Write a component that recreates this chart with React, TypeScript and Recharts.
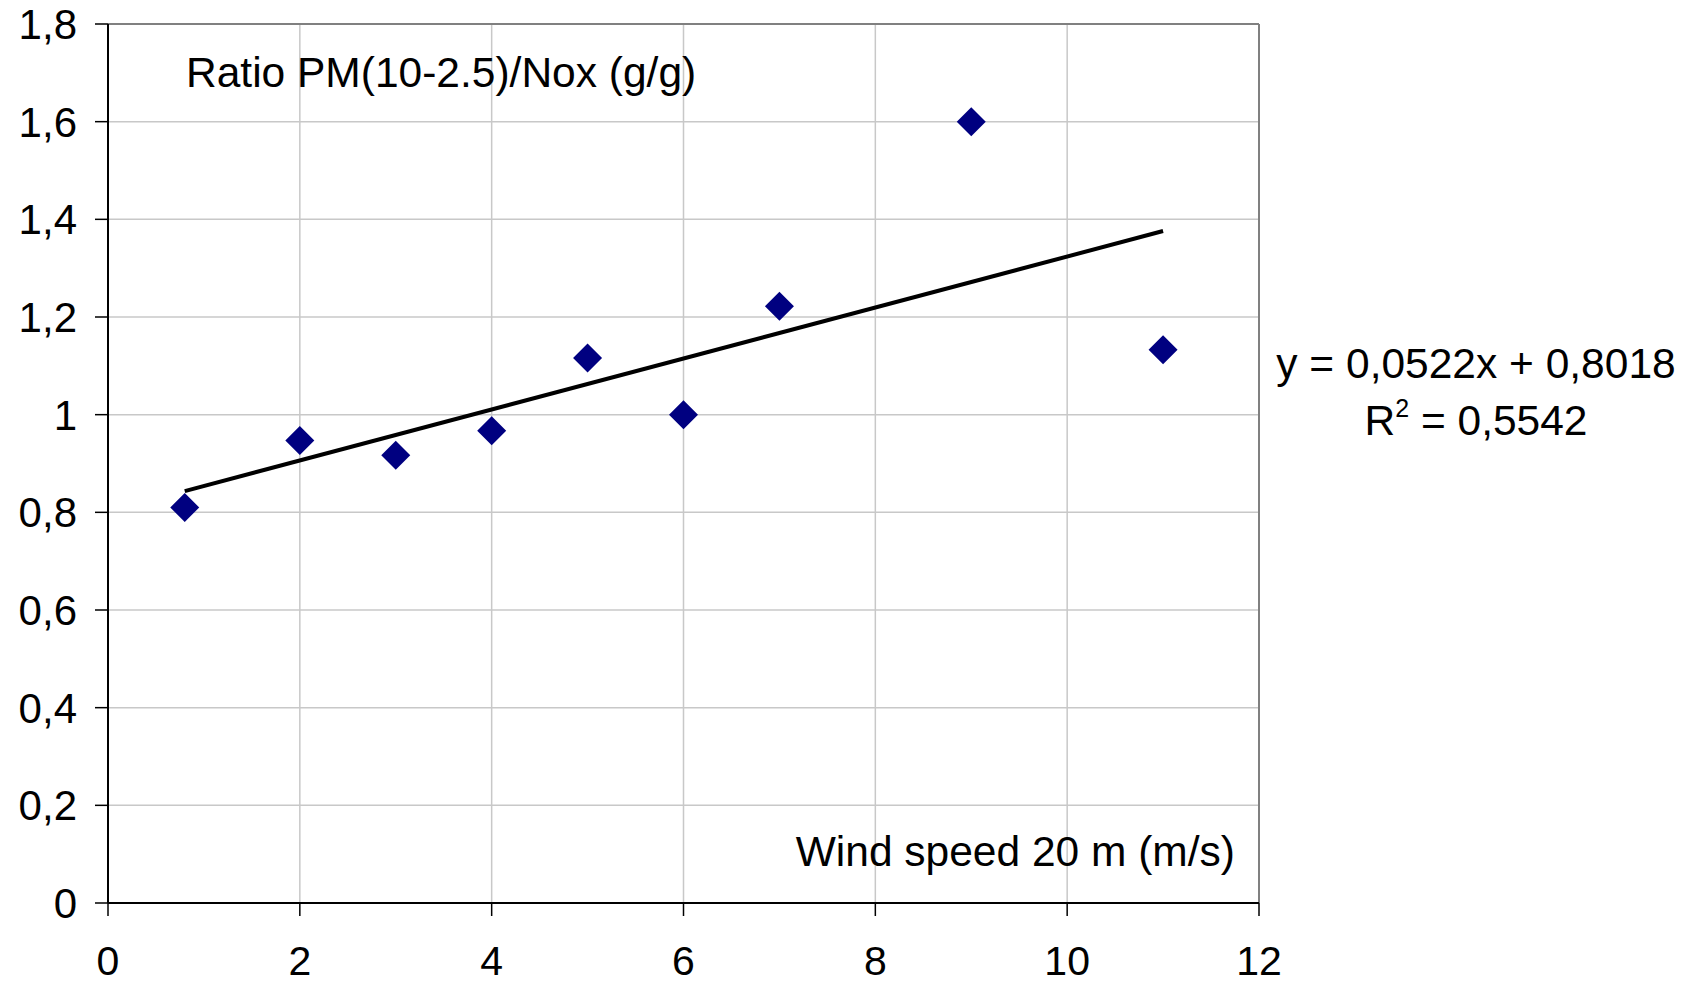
import { ScatterChart, Scatter, XAxis, YAxis, CartesianGrid, ReferenceLine } from "recharts";

const windSpeed = [0.8, 2, 3, 4, 5, 6, 7, 9, 11];
const ratio = [0.81, 0.947, 0.917, 0.967, 1.116, 1.0, 1.222, 1.6, 1.133];
const xTicks = [0, 2, 4, 6, 8, 10, 12];
const yTicks = [0, 0.2, 0.4, 0.6, 0.8, 1, 1.2, 1.4, 1.6, 1.8];

// trendline from the equation shown in the chart
const slope = 0.0522;
const intercept = 0.8018;
const trendFrom = 0.8;
const trendTo = 11;

const points = windSpeed.map((x, i) => ({ x, y: ratio[i] }));
const font = "'Liberation Sans', Arial, sans-serif";
const comma = (v: number) => String(v).replace(".", ",");

const Diamond = (props: any) => {
  const { cx, cy } = props;
  const r = 14.5;
  return (
    <polygon
      points={`${cx},${cy - r} ${cx + r},${cy} ${cx},${cy + r} ${cx - r},${cy}`}
      fill="#000080"
    />
  );
};

export default function App() {
  return (
    <div style={{ position: "absolute", left: 0, top: 0, width: 1692, height: 984, background: "#fff" }}>
      <ScatterChart width={1692} height={984} margin={{ top: 24, right: 433, left: 0, bottom: 0 }}>
        <CartesianGrid stroke="#c8c8c8" strokeWidth={1.5} />
        <XAxis
          type="number"
          dataKey="x"
          domain={[0, 12]}
          ticks={xTicks}
          height={81}
          tickSize={13}
          tickMargin={30}
          axisLine={{ stroke: "#000", strokeWidth: 2 }}
          tickLine={{ stroke: "#000", strokeWidth: 1.5 }}
          tick={{ fill: "#000", fontSize: 41, fontFamily: font }}
          interval={0}
        />
        <YAxis
          type="number"
          dataKey="y"
          domain={[0, 1.8]}
          ticks={yTicks}
          width={108}
          tickSize={13}
          tickMargin={18}
          tickFormatter={comma}
          axisLine={{ stroke: "#000", strokeWidth: 2 }}
          tickLine={{ stroke: "#000", strokeWidth: 1.5 }}
          tick={{ fill: "#000", fontSize: 42, fontFamily: font }}
          interval={0}
        />
        <ReferenceLine y={1.8} stroke="#808080" strokeWidth={2} />
        <ReferenceLine x={12} stroke="#808080" strokeWidth={2} />
        <ReferenceLine
          segment={[
            { x: trendFrom, y: slope * trendFrom + intercept },
            { x: trendTo, y: slope * trendTo + intercept },
          ]}
          stroke="#000"
          strokeWidth={4}
        />
        <Scatter data={points} shape={Diamond} isAnimationActive={false} />
      </ScatterChart>
      <svg
        width={1692}
        height={984}
        style={{ position: "absolute", left: 0, top: 0, pointerEvents: "none" }}
        fontFamily={font}
      >
        <text x={186} y={87} fontSize={42.5} fill="#000">
          Ratio PM(10-2.5)/Nox (g/g)
        </text>
        <text x={1235} y={866} fontSize={42.5} fill="#000" textAnchor="end">
          Wind speed 20 m (m/s)
        </text>
        <text x={1476} y={378} fontSize={42.5} fill="#000" textAnchor="middle">
          y = 0,0522x + 0,8018
        </text>
        <text x={1476} y={435} fontSize={42.5} fill="#000" textAnchor="middle">
          R<tspan dy={-18} fontSize={25}>2</tspan>
          <tspan dy={18}> = 0,5542</tspan>
        </text>
      </svg>
    </div>
  );
}
